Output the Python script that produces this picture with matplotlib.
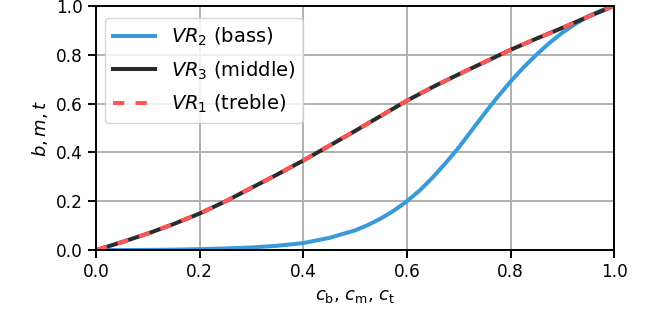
import matplotlib
matplotlib.use("Agg")
import matplotlib.pyplot as plt

pos = [0.0, 0.05, 0.1, 0.15, 0.2, 0.25, 0.3, 0.35, 0.4, 0.45, 0.5, 0.525,
       0.55, 0.575, 0.6, 0.625, 0.65, 0.675, 0.7, 0.725, 0.75, 0.775, 0.8,
       0.825, 0.85, 0.875, 0.9, 0.925, 0.95, 0.975, 1.0]
bass = [0.0, 0.0005, 0.001, 0.002, 0.004, 0.007, 0.011, 0.018, 0.029, 0.05, 0.081, 0.103,
        0.13, 0.162, 0.2, 0.245, 0.298, 0.357, 0.42, 0.49, 0.56, 0.627, 0.69,
        0.748, 0.80, 0.848, 0.89, 0.926, 0.957, 0.981, 1.0]
middle = [0.0, 0.033, 0.068, 0.107, 0.15, 0.2, 0.255, 0.31, 0.367, 0.427, 0.488, 0.519,
          0.55, 0.581, 0.612, 0.64, 0.668, 0.694, 0.72, 0.745, 0.77, 0.795, 0.82,
          0.843, 0.866, 0.888, 0.91, 0.933, 0.956, 0.978, 1.0]
treble = [0.0, 0.033, 0.068, 0.107, 0.15, 0.2, 0.255, 0.31, 0.367, 0.427, 0.488, 0.519,
          0.55, 0.581, 0.612, 0.64, 0.668, 0.694, 0.72, 0.745, 0.77, 0.795, 0.82,
          0.843, 0.866, 0.888, 0.91, 0.933, 0.956, 0.978, 1.0]
ticks = [0.0, 0.2, 0.4, 0.6, 0.8, 1.0]

plt.rcParams["axes.linewidth"] = 1.4

fig = plt.figure(figsize=(6.6, 3.27), dpi=100)
ax = fig.add_axes([0.1455, 0.235, 0.785, 0.747])

ax.plot(pos, bass, color="#3a9ad9", lw=2.9, label=r"$VR_2$ (bass)",
        solid_joinstyle="round")
ax.plot(pos, middle, color="#2b2b2b", lw=2.9, label=r"$VR_3$ (middle)",
        solid_joinstyle="round")
ax.plot(pos, treble, color="#ff5555", lw=2.9, ls=(0, (2.8, 2.8)),
        label=r"$VR_1$ (treble)")

ax.set_xlim(0, 1)
ax.set_ylim(0, 1)
ax.set_xticks(ticks)
ax.set_yticks(ticks)
ax.grid(True, color="#b0b0b0", lw=1.4)
ax.set_axisbelow(True)
ax.tick_params(labelsize=12.2, direction="out", length=6, width=1.4)
ax.set_xlabel(r"$c_\mathrm{b}$, $c_\mathrm{m}$, $c_\mathrm{t}$", fontsize=13)
ax.set_ylabel(r"$b, m, t$", fontsize=13)
ax.legend(loc="upper left", bbox_to_anchor=(0.017, 0.951), borderaxespad=0,
          fontsize=14, framealpha=0.8, handlelength=2.2, labelspacing=0.58)

fig.savefig("out.png", dpi=100)
